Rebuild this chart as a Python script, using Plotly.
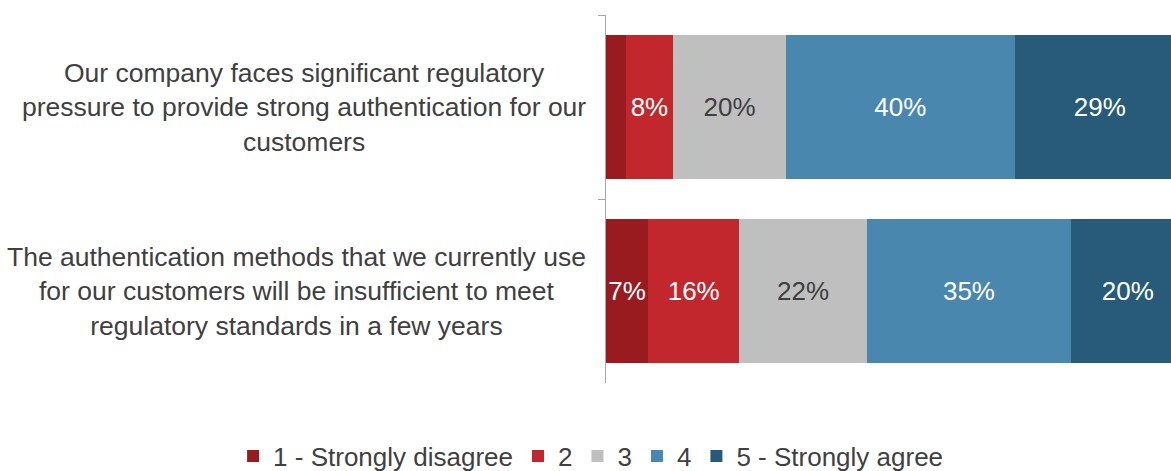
import plotly.graph_objects as go

categories = [
    "Our company faces significant regulatory<br>pressure to provide strong authentication for our<br>customers",
    "The authentication methods that we currently use<br>for our customers will be insufficient to meet<br>regulatory standards in a few years",
]
series_names = ["1 - Strongly disagree", "2", "3", "4", "5 - Strongly agree"]
values = {
    "1 - Strongly disagree": [3.4, 7.3],
    "2": [8.2, 15.7],
    "3": [19.5, 22.1],
    "4": [39.5, 35.2],
    "5 - Strongly agree": [29.4, 19.7],
}
colors = ["#991b1f", "#c1272c", "#bfbfbf", "#4a87ae", "#275b79"]
text_colors = ["white", "white", "#404040", "white", "white"]

FONT = "Liberation Sans, Arial, sans-serif"
FS = 26
fig = go.Figure()
for name, col, tcol in zip(series_names, colors, text_colors):
    vals = values[name]
    labels = [f"{v:.0f}%" if v >= 5 else "" for v in vals]
    fig.add_trace(go.Bar(
        name=name, y=categories, x=vals, orientation="h",
        marker=dict(color=col, line=dict(width=0)),
        text=labels, textposition="inside", insidetextanchor="middle",
        textangle=0, constraintext="none",
        textfont=dict(color=tcol, size=FS, family=FONT),
        hoverinfo="skip",
    ))

for cat in categories:
    fig.add_annotation(
        x=0, xref="paper", y=cat, yref="y", text=cat, showarrow=False,
        xanchor="right", align="center", xshift=-18,
        font=dict(size=26.5, color="#404040", family=FONT),
    )

fig.update_layout(
    barmode="stack", bargap=0.22,
    width=1171, height=471,
    margin=dict(l=606, r=0, t=15, b=88, autoexpand=False),
    paper_bgcolor="white", plot_bgcolor="white",
    font=dict(family=FONT, color="#404040", size=FS),
    showlegend=True,
    legend=dict(
        orientation="h", traceorder="normal",
        x=-0.66, xref="paper", xanchor="left",
        y=-0.135, yref="paper", yanchor="top",
        font=dict(size=FS, color="#404040", family=FONT),
    ),
    xaxis=dict(range=[0, 97.6], visible=False, fixedrange=True),
    yaxis=dict(
        autorange="reversed", showticklabels=False, tickson="boundaries",
        ticks="outside", ticklen=7, tickcolor="#a6a6a6",
        showline=True, linecolor="#a6a6a6", linewidth=1,
        showgrid=False, zeroline=False,
    ),
)

fig.write_html("out.html")
